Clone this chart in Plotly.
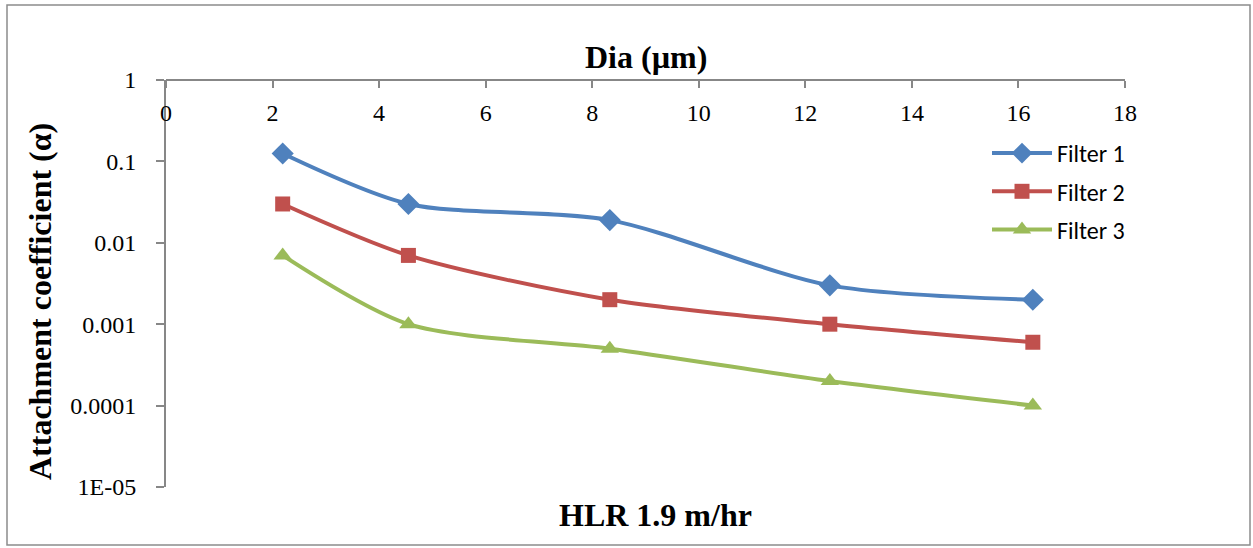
import plotly.graph_objects as go

# Particle diameter (µm) and attachment coefficients per filter
dia = [2.19, 4.55, 8.33, 12.46, 16.27]
filter1 = [0.125, 0.03, 0.019, 0.003, 0.002]
filter2 = [0.03, 0.007, 0.002, 0.001, 0.0006]
filter3 = [0.007, 0.001, 0.0005, 0.0002, 0.0001]

series = [
    ("Filter 1", filter1, "#4F81BD", "diamond", 17),
    ("Filter 2", filter2, "#C0504D", "square", 15),
    ("Filter 3", filter3, "#9BBB59", "triangle-up", 16),
]

x_ticks = [0, 2, 4, 6, 8, 10, 12, 14, 16, 18]
y_ticks = [1, 0.1, 0.01, 0.001, 0.0001, 0.00001]
y_tick_text = ["1", "0.1", "0.01", "0.001", "0.0001", "1E-05"]

fig = go.Figure()
for name, vals, color, symbol, size in series:
    fig.add_trace(go.Scatter(
        x=dia, y=vals, name=name, mode="lines+markers", legendgroup=name,
        line=dict(color=color, width=4, shape="spline", smoothing=0.8),
        marker=dict(symbol=symbol, size=size, color=color),
    ))

L, R, T, B = 166, 128, 80, 61
W, H = 1253, 548
pw, ph = W - L - R, H - T - B

def px(xp):
    return (xp - L) / pw

def py(yp):
    return 1 - (yp - T) / ph

axis_col = "#878787"
serif = "Liberation Serif"

fig.update_layout(
    width=W, height=H,
    margin=dict(l=L, r=R, t=T, b=B),
    paper_bgcolor="white", plot_bgcolor="white",
    font=dict(family=serif, color="black", size=24),
    # horizontal axis sits along the top edge with labels hanging below it
    xaxis=dict(
        range=[0, 18], tickvals=x_ticks, side="bottom",
        anchor="free", position=1,
        showline=True, linecolor=axis_col, linewidth=2,
        ticks="outside", ticklen=7, tickcolor=axis_col, tickwidth=2,
        showgrid=False, zeroline=False, ticklabelstandoff=4,
        tickfont=dict(family=serif, size=24, color="black"),
    ),
    yaxis=dict(
        type="log", range=[-5.0005, 0.0005],
        tickvals=y_ticks, ticktext=y_tick_text,
        showline=True, linecolor=axis_col, linewidth=2,
        ticks="outside", ticklen=8, tickcolor=axis_col, tickwidth=2,
        showgrid=False, zeroline=False, ticklabelstandoff=15,
        tickfont=dict(family=serif, size=24, color="black"),
    ),
    legend=dict(
        x=px(987), y=py(131), xanchor="left", yanchor="top",
        font=dict(family="Carlito, Lato, Noto Sans, sans-serif", size=24, color="black"),
        bgcolor="rgba(0,0,0,0)", tracegroupgap=4, itemwidth=60,
    ),
    showlegend=True,
)

fig.add_annotation(
    text="<b>Dia (µm)</b>", xref="paper", yref="paper",
    x=px(646), y=py(57), xanchor="center", yanchor="middle",
    showarrow=False, font=dict(family=serif, size=32, color="black"),
)
fig.add_annotation(
    text="<b>HLR 1.9 m/hr</b>", xref="paper", yref="paper",
    x=px(655), y=py(515), xanchor="center", yanchor="middle",
    showarrow=False, font=dict(family=serif, size=32, color="black"),
)
fig.add_annotation(
    text="<b>Attachment coefficient (α)</b>", xref="paper", yref="paper",
    x=px(40), y=py(302), xanchor="center", yanchor="middle", textangle=-90,
    showarrow=False, font=dict(family=serif, size=32, color="black"),
)

# Chart frame
fig.add_shape(
    type="rect", xref="paper", yref="paper",
    x0=px(7), x1=px(1250), y0=py(545), y1=py(5),
    line=dict(color="#8C8C8C", width=1.5), fillcolor="rgba(0,0,0,0)",
)

fig.write_html("out.html")
